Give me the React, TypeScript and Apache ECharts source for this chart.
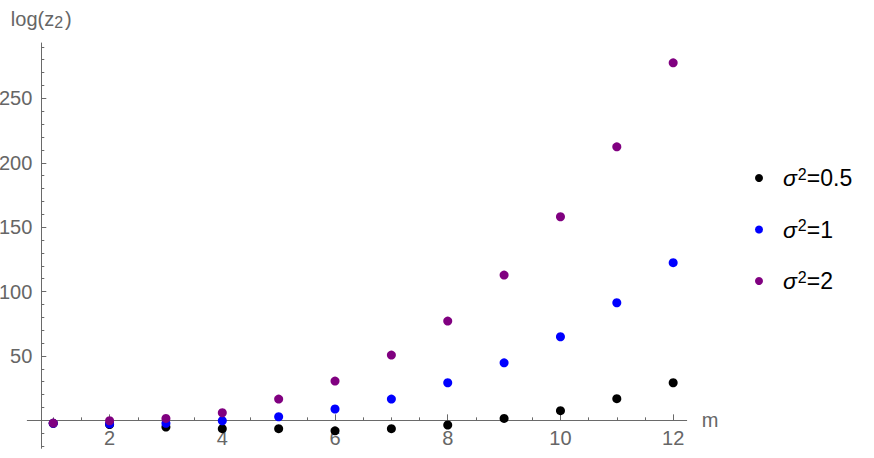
import React, { useEffect, useRef } from "react";
import * as echarts from "echarts";

// ---- data ----
const mValues = [1, 2, 3, 4, 5, 6, 7, 8, 9, 10, 11, 12];
const sigma05 = [-2.3, -3.3, -5.2, -6.5, -6.5, -8.1, -6.5, -3.6, 1.5, 7.5, 16.8, 29.2];
const sigma1 = [-2.3, -2.8, -2.3, -0.3, 2.8, 8.8, 16.5, 29.2, 44.7, 64.9, 91.3, 122.4];
const sigma2 = [-2.1, -0.3, 1.5, 5.9, 16.5, 30.5, 50.7, 77.1, 112.8, 158.1, 212.4, 277.6];

const seriesNames = ["σ²=0.5", "σ²=1", "σ²=2"];
const seriesValueText = ["=0.5", "=1", "=2"];
const seriesColors = ["#000000", "#0000ff", "#800080"];

const xTickLabels = [2, 4, 6, 8, 10, 12];
const yTickLabels = [50, 100, 150, 200, 250];
const yMajorTicks = [0, 50, 100, 150, 200, 250];

const X_MIN = 0.54;
const X_MAX = 12.24;
const Y_MIN = -21.7;
const Y_MAX = 293;

function minorX(): number[] {
  const out: number[] = [];
  for (let v = 1; v <= 12; v += 0.5) {
    if (!(v % 2 === 0)) out.push(v);
  }
  return out;
}
function minorY(): number[] {
  const out: number[] = [];
  for (let v = -20; v <= 290; v += 10) {
    if (v % 50 !== 0) out.push(v);
  }
  return out;
}

const AXIS_COLOR = "#6a6a6a";
const LABEL_COLOR = "#666666";
const FONT = "'Liberation Sans', Arial, Helvetica, sans-serif";

function xAxes(offset: number) {
  return [
    {
      type: "value",
      min: X_MIN,
      max: X_MAX,
      position: "bottom",
      offset,
      name: "m",
      nameLocation: "end",
      nameGap: 15,
      nameTextStyle: { fontSize: 20, color: LABEL_COLOR, fontFamily: FONT },
      axisLine: {
        show: true,
        onZero: false,
        lineStyle: { color: AXIS_COLOR, width: 1 },
      },
      axisTick: {
        show: true,
        inside: true,
        length: 6,
        customValues: xTickLabels,
        lineStyle: { color: AXIS_COLOR },
      },
      axisLabel: {
        show: true,
        customValues: xTickLabels,
        fontSize: 20,
        color: LABEL_COLOR,
        fontFamily: FONT,
        margin: 8,
      },
      splitLine: { show: false },
    },
    {
      type: "value",
      min: X_MIN,
      max: X_MAX,
      position: "bottom",
      offset,
      axisLine: { show: false, onZero: false },
      axisTick: {
        show: true,
        inside: true,
        length: 3,
        customValues: minorX(),
        lineStyle: { color: AXIS_COLOR },
      },
      axisLabel: { show: false },
      splitLine: { show: false },
    },
  ];
}

export default function App() {
  const ref = useRef<HTMLDivElement>(null);

  useEffect(() => {
    if (!ref.current) return;
    const chart = echarts.init(ref.current, undefined, { renderer: "svg" });
    const allSeries = [sigma05, sigma1, sigma2];

    const option: any = {
      animation: false,
      textStyle: { fontFamily: FONT },
      grid: {
        left: 27.3,
        right: 187.3,
        top: 43,
        bottom: 9.7,
        containLabel: false,
        outerBoundsMode: "none",
      },
      legend: {
        orient: "vertical",
        left: 750,
        top: 161,
        icon: "circle",
        itemWidth: 8,
        itemHeight: 8,
        itemGap: 28,
        data: seriesNames,
        formatter: (name: string) => {
          const i = seriesNames.indexOf(name);
          return `{s|σ}{p|2}{t|${seriesValueText[i]}}`;
        },
        textStyle: {
          padding: [0, 0, 0, 15],
          color: "#000",
          rich: {
            s: {
              fontSize: 23,
              fontStyle: "italic",
              fontFamily: FONT,
              color: "#000",
              lineHeight: 24,
              verticalAlign: "middle",
              padding: [0, 1, 0, 0],
            },
            p: {
              fontSize: 16,
              fontFamily: FONT,
              color: "#000",
              lineHeight: 16,
              verticalAlign: "top",
            },
            t: {
              fontSize: 23,
              fontFamily: FONT,
              color: "#000",
              lineHeight: 24,
              verticalAlign: "middle",
            },
          },
        },
      },
      xAxis: xAxes(0),
      yAxis: [
        {
          type: "value",
          min: Y_MIN,
          max: Y_MAX,
          position: "left",
          offset: -14,
          name: "{a|log(z}{b|2}{a|)}",
          nameLocation: "end",
          nameGap: 13,
          nameTextStyle: {
            color: LABEL_COLOR,
            rich: {
              a: {
                fontSize: 20,
                color: LABEL_COLOR,
                fontFamily: FONT,
                lineHeight: 22,
                verticalAlign: "middle",
              },
              b: {
                fontSize: 16,
                color: LABEL_COLOR,
                fontFamily: FONT,
                lineHeight: 16,
                verticalAlign: "bottom",
                padding: [0, 2, 0, 0],
              },
            },
          },
          axisLine: { show: true, onZero: false, lineStyle: { color: AXIS_COLOR, width: 1 } },
          axisTick: {
            show: true,
            inside: true,
            length: 5,
            customValues: yMajorTicks,
            lineStyle: { color: AXIS_COLOR },
          },
          axisLabel: {
            show: true,
            customValues: yTickLabels,
            fontSize: 20,
            color: LABEL_COLOR,
            fontFamily: FONT,
            margin: 9,
          },
          splitLine: { show: false },
        },
        {
          type: "value",
          min: Y_MIN,
          max: Y_MAX,
          position: "left",
          offset: -14,
          axisLine: { show: false, onZero: false },
          axisTick: {
            show: true,
            inside: true,
            length: 3,
            customValues: minorY(),
            lineStyle: { color: AXIS_COLOR },
          },
          axisLabel: { show: false },
          splitLine: { show: false },
        },
      ],
      series: seriesNames.map((name, i) => ({
        name,
        type: "scatter",
        xAxisIndex: 0,
        yAxisIndex: 0,
        symbol: "circle",
        symbolSize: 9,
        itemStyle: { color: seriesColors[i], opacity: 1 },
        emphasis: { disabled: true },
        data: mValues.map((m, j) => [m, allSeries[i][j]]),
        z: 2 + i,
      })),
    };

    chart.setOption(option);
    // place the x axis on the y = 0 line, measured through the y scale
    const zeroPx = chart.convertToPixel({ yAxisIndex: 0 }, 0) as number;
    const bottomPx = chart.convertToPixel({ yAxisIndex: 0 }, Y_MIN) as number;
    if (isFinite(zeroPx) && isFinite(bottomPx)) {
      chart.setOption({ xAxis: xAxes(-(bottomPx - zeroPx)) });
    }
    return () => {
      chart.dispose();
    };
  }, []);

  return (
    <div
      ref={ref}
      style={{ position: "fixed", left: 0, top: 0, width: 874, height: 458, background: "#fff" }}
    />
  );
}
